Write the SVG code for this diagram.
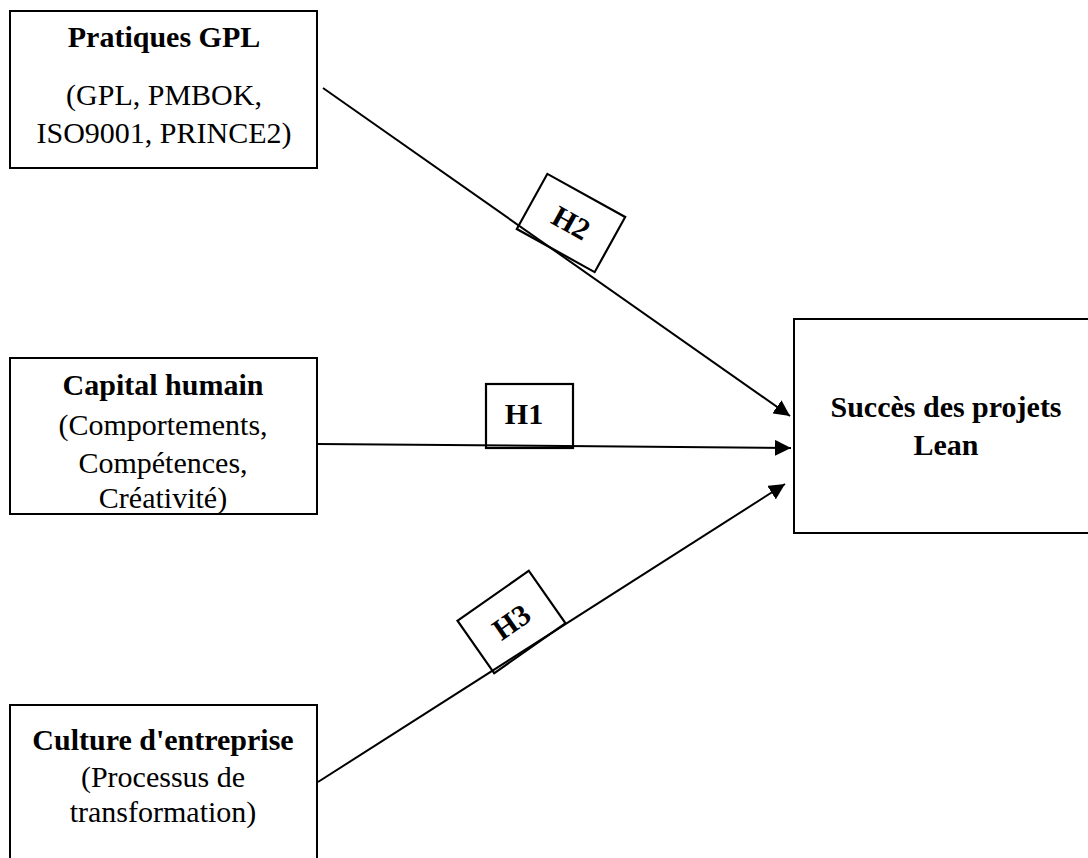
<svg xmlns="http://www.w3.org/2000/svg" width="1088" height="858" viewBox="0 0 1088 858">
  <style>
    .box { fill: #ffffff; stroke: #000000; stroke-width: 2; }
    .lbl { fill: #ffffff; stroke: #000000; stroke-width: 2.2; }
    .edge { stroke: #000000; stroke-width: 2; fill: none; }
    text { font-family: "Liberation Serif", "Times New Roman", serif; font-size: 30px; fill: #000000; text-anchor: middle; }
    .b { font-weight: bold; }
  </style>
  <defs>
    <marker id="arrow" viewBox="0 0 10 10" refX="10" refY="5" markerWidth="16" markerHeight="16" markerUnits="userSpaceOnUse" orient="auto">
      <path d="M0,0 L10,5 L0,10 Z" fill="#000000"/>
    </marker>
  </defs>

  <rect width="1088" height="858" fill="#ffffff"/>

  <!-- Source constructs -->
  <g id="pratiques-gpl">
    <rect class="box" x="10" y="11" width="307" height="157"/>
    <text class="b" x="164" y="47">Pratiques GPL</text>
    <text x="164" y="105">(GPL, PMBOK,</text>
    <text x="164" y="143">ISO9001, PRINCE2)</text>
  </g>

  <g id="capital-humain">
    <rect class="box" x="10" y="358" width="307" height="156"/>
    <text class="b" x="163" y="395">Capital humain</text>
    <text x="163" y="435">(Comportements,</text>
    <text x="163" y="473">Compétences,</text>
    <text x="163" y="508">Créativité)</text>
  </g>

  <g id="culture-entreprise">
    <rect class="box" x="10" y="705" width="307" height="170"/>
    <text class="b" x="163" y="750">Culture d'entreprise</text>
    <text x="163" y="787">(Processus de</text>
    <text x="163" y="822">transformation)</text>
  </g>

  <!-- Outcome -->
  <g id="succes-lean">
    <rect class="box" x="794" y="319" width="300" height="214"/>
    <text class="b" x="946" y="417">Succès des projets</text>
    <text class="b" x="946" y="455">Lean</text>
  </g>

  <!-- Hypothesis connectors -->
  <g id="connectors">
    <line class="edge" x1="323" y1="88" x2="790" y2="416" marker-end="url(#arrow)"/>
    <line class="edge" x1="318" y1="444" x2="791" y2="448" marker-end="url(#arrow)"/>
    <line class="edge" x1="318" y1="782" x2="785" y2="484" marker-end="url(#arrow)"/>
  </g>

  <!-- Hypothesis labels -->
  <g id="h1">
    <rect class="lbl" x="486" y="384" width="87" height="64" fill-opacity="0"/>
    <text class="b" x="524" y="424">H1</text>
  </g>

  <g id="h2" transform="translate(571,223) rotate(29)">
    <rect class="lbl" x="-44.5" y="-31.5" width="89" height="63" fill-opacity="0"/>
    <text class="b" x="0" y="10">H2</text>
  </g>

  <g id="h3" transform="translate(511.5,622) rotate(-35)">
    <rect class="lbl" x="-43.5" y="-32" width="87" height="64" fill-opacity="0"/>
    <text class="b" x="0" y="10">H3</text>
  </g>
</svg>
